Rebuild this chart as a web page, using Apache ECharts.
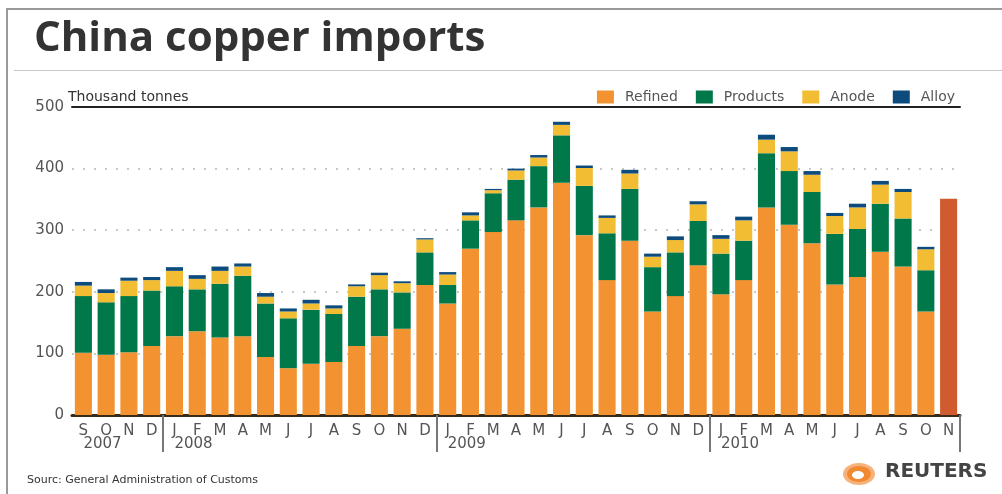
<!DOCTYPE html>
<html>
<head>
<meta charset="utf-8">
<script src="https://cdn.jsdelivr.net/npm/echarts@6/dist/echarts.min.js"></script>
<style>
html,body{margin:0;padding:0;background:#fff;}
#chart{width:1002px;height:494px;}
</style>
</head>
<body>
<div id="chart"></div>
<script>
// Categories (Sep 2007 .. Nov 2010)
var categories = ['2007-09','2007-10','2007-11','2007-12',
  '2008-01','2008-02','2008-03','2008-04','2008-05','2008-06','2008-07','2008-08','2008-09','2008-10','2008-11','2008-12',
  '2009-01','2009-02','2009-03','2009-04','2009-05','2009-06','2009-07','2009-08','2009-09','2009-10','2009-11','2009-12',
  '2010-01','2010-02','2010-03','2010-04','2010-05','2010-06','2010-07','2010-08','2010-09','2010-10','2010-11'];
var monthLabels = ['S','O','N','D',
  'J','F','M','A','M','J','J','A','S','O','N','D',
  'J','F','M','A','M','J','J','A','S','O','N','D',
  'J','F','M','A','M','J','J','A','S','O','N'];
var yearLabels = {0:'2007', 4:'2008', 16:'2009', 28:'2010'};
var yearStarts = [4, 16, 28];
var yTicks = [0, 100, 200, 300, 400, 500];

// Values, thousand tonnes
var refined  = [101,98,102,112, 128,136,126,128,94,76,83,86,112,128,140,211,
                181,270,297,316,337,377,292,219,283,168,193,243,
                196,219,337,309,279,212,224,265,241,168,'-'];
var products = [92,85,91,90, 81,68,87,98,87,81,88,78,80,76,59,53,
                30,46,63,66,67,77,80,76,84,72,71,72,
                66,64,88,87,83,82,78,78,78,67,'-'];
var anode    = [17,15,25,17, 25,17,21,15,11,11,10,9,17,23,15,21,
                17,8,5,15,14,17,29,25,25,17,20,27,
                24,33,22,32,28,29,35,31,43,34,'-'];
var alloy    = [6,6,5,5, 6,6,7,5,6,5,6,5,3,4,3,2,
                4,5,2,3,4,5,4,4,6,5,6,5,
                6,6,8,7,6,5,6,6,5,4,'-'];
var totalOnly = ['-','-','-','-','-','-','-','-','-','-','-','-','-','-','-','-',
                 '-','-','-','-','-','-','-','-','-','-','-','-',
                 '-','-','-','-','-','-','-','-','-','-',351];

var FONT = 'DejaVu Sans';
var chart = echarts.init(document.getElementById('chart'));
var option = {
  animation: false,
  backgroundColor: '#ffffff',
  title: {
    text: 'China copper imports',
    left: 29, top: 13,
    textStyle: {fontFamily: 'Open Sans', fontWeight: 'bold', fontSize: 42, color: '#333333'}
  },
  legend: {
    data: ['Refined','Products','Anode','Alloy'],
    right: 42, top: 85,
    icon: 'rect', itemWidth: 17, itemHeight: 13, itemGap: 18,
    textStyle: {fontFamily: FONT, fontSize: 14, color: '#555555', padding: [0,0,0,6]}
  },
  grid: {left: 72, right: 42, top: 107, bottom: 79, containLabel: false},
  xAxis: [{
    type: 'category', data: categories, position: 'bottom',
    axisLine: {show: true, lineStyle: {color: '#3a2a1a', width: 3}},
    axisTick: {show: true, length: 37, lineStyle: {color: '#777777', width: 2},
      interval: function (i) { return yearStarts.indexOf(i) >= 0; }},
    axisLabel: {interval: 0, margin: 9, fontFamily: FONT, fontSize: 15, color: '#555555',
      formatter: function (v, i) { return monthLabels[i]; }},
    splitLine: {show: false}
  }, {
    type: 'category', data: categories, position: 'bottom',
    axisLine: {show: false}, axisTick: {show: false},
    axisLabel: {interval: 0, margin: 22, align: 'left', fontFamily: FONT, fontSize: 15, color: '#555555',
      formatter: function (v, i) { return yearLabels[i] || ''; }}
  }, {
    type: 'category', data: categories, position: 'top',
    axisLine: {show: true, lineStyle: {color: '#222222', width: 2}},
    axisTick: {show: false}, axisLabel: {show: false}
  }],
  yAxis: {
    type: 'value', min: yTicks[0], max: yTicks[yTicks.length-1], interval: 100,
    axisLine: {show: false}, axisTick: {show: false},
    axisLabel: {margin: 8, fontFamily: FONT, fontSize: 15, color: '#555555'},
    splitLine: {show: true, lineStyle: {color: '#c8c8c8', width: 2, type: [2, 9]}}
  },
  series: [
    {name: 'Refined', type: 'bar', stack: 's', data: refined, barCategoryGap: '25%', itemStyle: {color: '#f39231'}},
    {name: 'Products', type: 'bar', stack: 's', data: products, itemStyle: {color: '#00784a'}},
    {name: 'Anode', type: 'bar', stack: 's', data: anode, itemStyle: {color: '#f2bd33'}},
    {name: 'Alloy', type: 'bar', stack: 's', data: alloy, itemStyle: {color: '#0d4b7c'}},
    {name: 'Total', type: 'bar', stack: 's', data: totalOnly, itemStyle: {color: '#cf5b2e'}}
  ],
  graphic: [
    {type: 'rect', shape: {x: 6, y: 8, width: 2, height: 486}, style: {fill: '#999999'}, silent: true},
    {type: 'rect', shape: {x: 6, y: 8, width: 996, height: 2}, style: {fill: '#999999'}, silent: true},
    {type: 'rect', shape: {x: 14, y: 70, width: 988, height: 1}, style: {fill: '#c8c8c8'}, silent: true},
    {type: 'text', left: 68, top: 90, style: {text: 'Thousand tonnes', fontFamily: FONT, fontSize: 14, fill: '#333333'}},
    {type: 'text', left: 27, top: 475, style: {text: 'Sourc: General Administration of Customs', fontFamily: FONT, fontSize: 11, fill: '#333333'}},
    {type: 'ellipse', shape: {cx: 859, cy: 474, rx: 16, ry: 11}, style: {fill: '#f6b27a'}, silent: true},
    {type: 'ellipse', shape: {cx: 859, cy: 474, rx: 12, ry: 8}, style: {fill: '#f08a32'}, silent: true},
    {type: 'ellipse', shape: {cx: 858, cy: 475, rx: 6, ry: 4}, style: {fill: '#ffffff'}, silent: true},
    {type: 'text', left: 885, top: 462, style: {text: 'REUTERS', fontFamily: FONT, fontWeight: 'bold', fontSize: 20, fill: '#444444'}}
  ]
};
chart.setOption(option);
</script>
</body>
</html>
